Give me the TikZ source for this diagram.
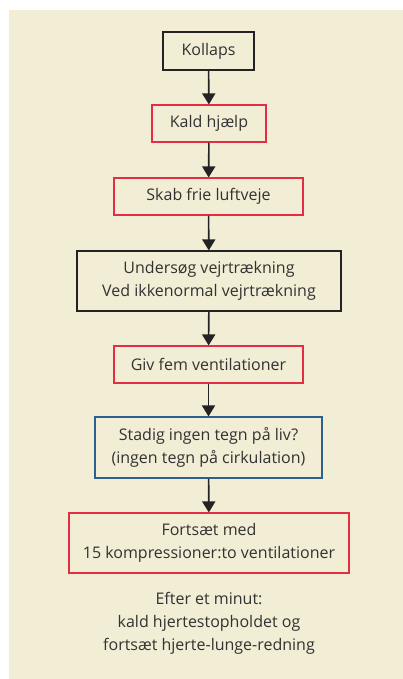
\documentclass[tikz,border=0pt]{standalone}
\usepackage{fontspec}
\setmainfont{Open Sans}
\usetikzlibrary{arrows.meta}
\definecolor{bg}{RGB}{242,237,213}
\definecolor{boxred}{RGB}{230,45,70}
\definecolor{boxblue}{RGB}{45,95,145}
\definecolor{boxblack}{RGB}{35,35,35}
\definecolor{txt}{RGB}{50,50,50}
\begin{document}
\begin{tikzpicture}[x=1pt,y=-1pt,
  every node/.style={font=\fontsize{16}{23}\selectfont, text=txt, align=center, inner sep=0pt},
  blk/.style={draw=boxblack, line width=1.1pt, minimum width=#1},
  rbox/.style={draw=boxred, line width=1.1pt, minimum width=#1},
  bbox/.style={draw=boxblue, line width=1.1pt, minimum width=#1},
  arr/.style={draw=boxblack, line width=1.6pt, -{Triangle[width=13pt,length=11pt]}}]
\useasboundingbox (0,0) rectangle (403,679);
\fill[bg] (9,10) rectangle (403,679);
\node[blk=91pt, minimum height=38pt] (k) at (208.5,51) {Kollaps};
\node[rbox=114pt, minimum height=37pt] (h) at (209,123.5) {Kald hjælp};
\node[rbox=189pt, minimum height=37pt] (s) at (208.5,196.5) {Skab frie luftveje};
\node[blk=264pt, minimum height=60pt] (u) at (209,281) {Undersøg vejrtrækning\\Ved ikkenormal vejrtrækning};
\node[rbox=189pt, minimum height=37pt] (g) at (208.5,364.5) {Giv fem ventilationer};
\node[bbox=227pt, minimum height=61pt] (st) at (208.5,447.5) {Stadig ingen tegn på liv?\\(ingen tegn på cirkulation)};
\node[rbox=280pt, minimum height=60pt] (f) at (209,543) {Fortsæt med\\15 kompressioner:to ventilationer};
\node (e) at (209,623) {Efter et minut:\\kald hjertestopholdet og\\fortsæt hjerte-lunge-redning};
\draw[arr] (k) -- (h);
\draw[arr] (h) -- (s);
\draw[arr] (s) -- (u);
\draw[arr] (u) -- (g);
\draw[arr] (g) -- (st);
\draw[arr] (st) -- (f);
\end{tikzpicture}
\end{document}
